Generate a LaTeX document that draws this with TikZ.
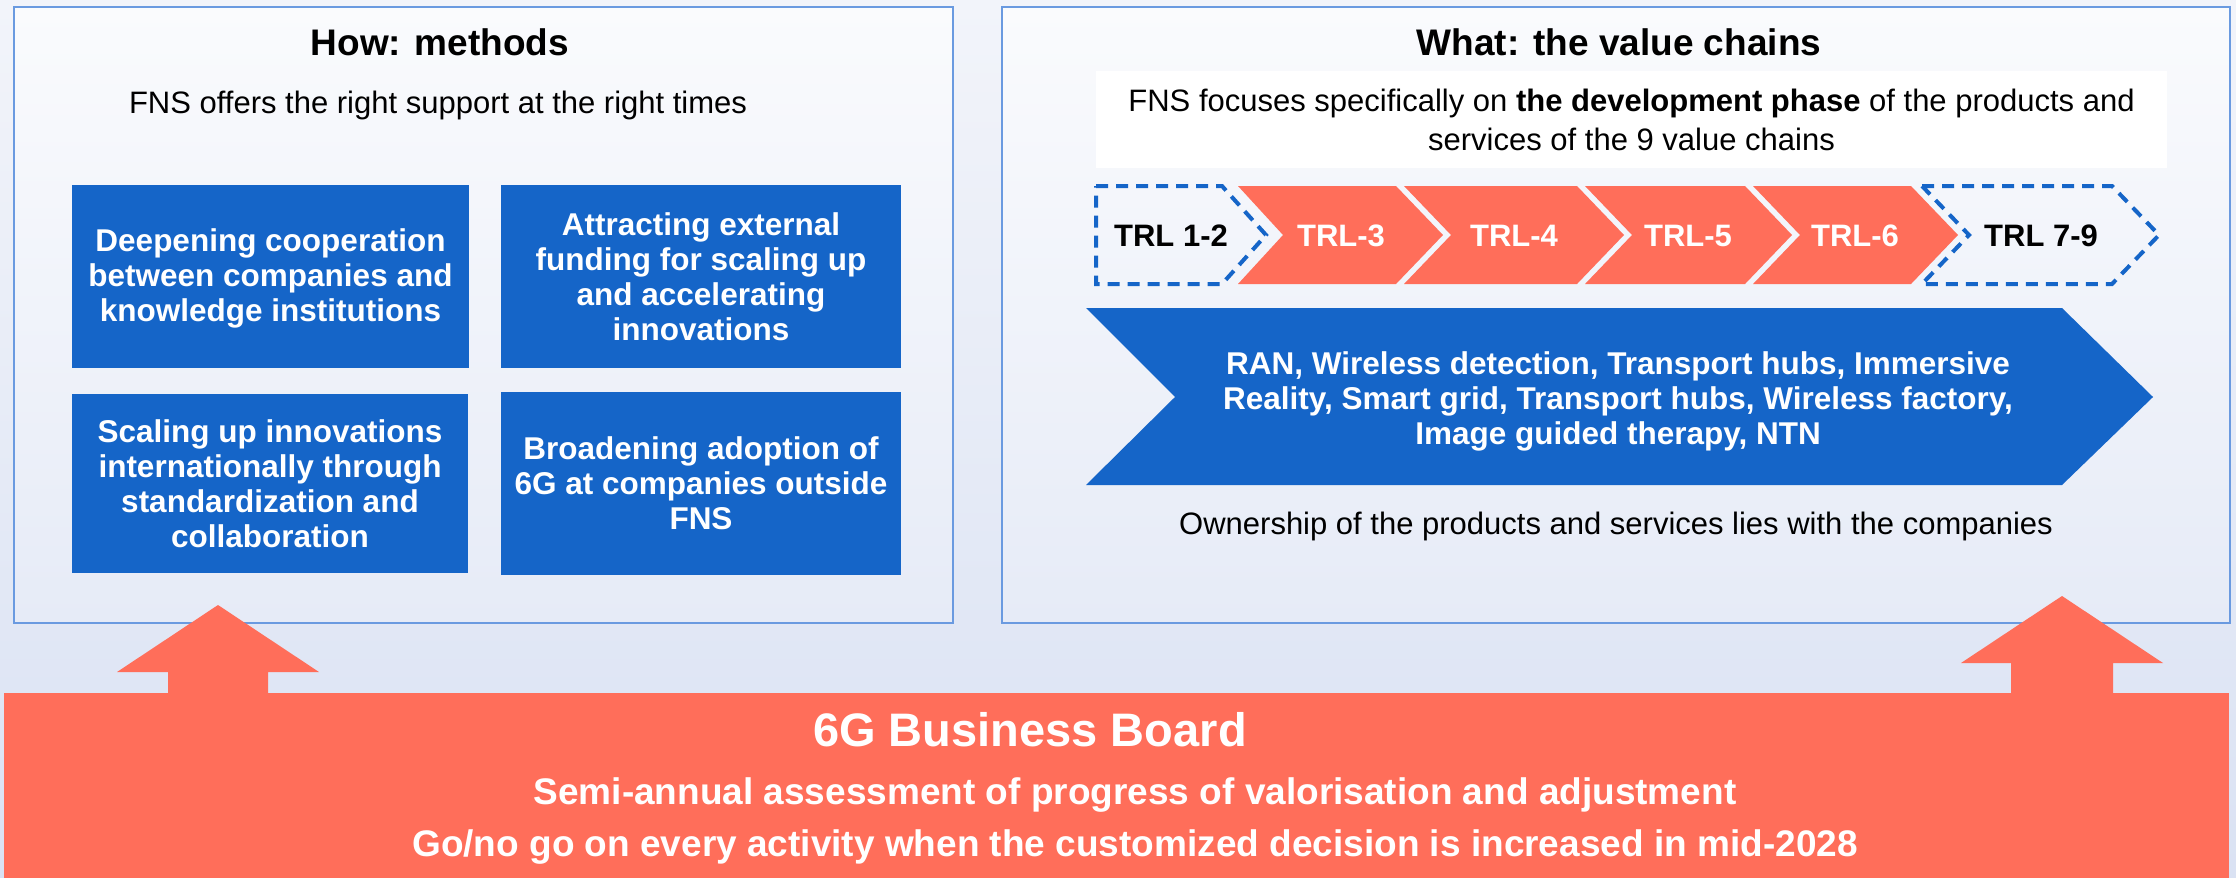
\documentclass[tikz,border=0pt]{standalone}
\usepackage{fontspec}
\setmainfont{Liberation Sans}
\definecolor{fnsblue}{HTML}{1565C8}
\definecolor{fnsorange}{HTML}{FF6E5A}
\definecolor{panelline}{HTML}{6A9AE0}
\definecolor{bgtop}{HTML}{F2F4FA}
\definecolor{bgbot}{HTML}{DAE2F3}
\definecolor{paneltop}{HTML}{FAFBFD}
\definecolor{panelbot}{HTML}{E6EBF7}
\begin{document}
\begin{tikzpicture}[x=1pt,y=-1pt,
  panel/.style={draw=panelline,line width=2pt,top color=paneltop,bottom color=panelbot},
  title/.style={font=\fontsize{37}{42}\selectfont\bfseries,text=black,inner sep=0pt},
  plain/.style={font=\fontsize{31}{39}\selectfont,text=black,inner sep=0pt,align=center},
  bluebox/.style={fill=fnsblue,text=white,font=\fontsize{31.5}{35}\selectfont\bfseries,align=center,inner sep=0pt},
  chev/.style={fill=fnsorange},
  dchev/.style={draw=fnsblue,line width=4pt,dash pattern=on 12pt off 8pt},
  chevlabel/.style={font=\fontsize{31}{35}\selectfont\bfseries,inner sep=0pt},
  board/.style={fill=fnsorange},
  boardtext/.style={text=white,font=\fontsize{37}{42}\selectfont\bfseries,inner sep=0pt}
]
\useasboundingbox (0,0) rectangle (2236,878);
\shade[top color=bgtop,bottom color=bgbot] (0,0) rectangle (2236,878);

% panels
\path[panel] (14,7) rectangle (953,623);
\path[panel] (1002,7) rectangle (2230,623);

% left panel content
\node[title] (howtitle) at (440,42) {How: methods};
\node[plain] (howsub) at (438,105) {FNS offers the right support at the right times};
\node[bluebox,minimum width=397pt,minimum height=183pt,text depth=2pt] (b1) at (270.5,276.5)
  {Deepening cooperation\\between companies and\\knowledge institutions};
\node[bluebox,minimum width=400pt,minimum height=183pt] (b2) at (701,276.5)
  {Attracting external\\funding for scaling up\\and accelerating\\innovations};
\node[bluebox,minimum width=396pt,minimum height=179pt] (b3) at (270,483.5)
  {Scaling up innovations\\internationally through\\standardization and\\collaboration};
\node[bluebox,minimum width=400pt,minimum height=183pt] (b4) at (701,483.5)
  {Broadening adoption of\\6G at companies outside\\FNS};

% right panel content
\node[title] (whattitle) at (1619,42) {What: the value chains};
\node[plain,fill=white,minimum width=1071pt,minimum height=97pt] (focus) at (1631.5,119.5)
  {FNS focuses specifically on \textbf{the development phase} of the products and\\services of the 9 value chains};

% TRL chevrons
\path[dchev] (1096,186) -- (1222,186) -- (1266,235) -- (1222,284) -- (1096,284) -- cycle;
\path[chev] (1238,186) -- (1396,186) -- (1443,235) -- (1396,284) -- (1238,284) -- (1283,235) -- cycle;
\path[chev] (1404,186) -- (1577,186) -- (1624,235) -- (1577,284) -- (1404,284) -- (1451,235) -- cycle;
\path[chev] (1585,186) -- (1745,186) -- (1792,235) -- (1745,284) -- (1585,284) -- (1632,235) -- cycle;
\path[chev] (1753,186) -- (1911,186) -- (1958,235) -- (1911,284) -- (1753,284) -- (1800,235) -- cycle;
\path[dchev] (1922,186) -- (2112,186) -- (2159,235) -- (2112,284) -- (1922,284) -- (1969,235) -- cycle;
\node[chevlabel,text=black] (t12) at (1171,236) {TRL 1-2};
\node[chevlabel,text=white] (t3) at (1341,236) {TRL-3};
\node[chevlabel,text=white] (t4) at (1514,236) {TRL-4};
\node[chevlabel,text=white] (t5) at (1688,236) {TRL-5};
\node[chevlabel,text=white] (t6) at (1855,236) {TRL-6};
\node[chevlabel,text=black] (t79) at (2041,236) {TRL 7-9};

% big blue arrow
\path[fill=fnsblue] (1086,308) -- (2062,308) -- (2153,397) -- (2062,485) -- (1086,485) -- (1175,397) -- cycle;
\node[bluebox] (chains) at (1618,401)
  {RAN, Wireless detection, Transport hubs, Immersive\\Reality, Smart grid, Transport hubs, Wireless factory,\\Image guided therapy, NTN};

\node[plain] (owner) at (1616,526) {Ownership of the products and services lies with the companies};

% board and arrows
\path[board] (4,693) rectangle (2229,878);
\path[board] (168,700) -- (168,672) -- (117,672) -- (218,605) -- (319,672) -- (268,672) -- (268,700) -- cycle;
\path[board] (2011,700) -- (2011,663) -- (1961,663) -- (2062,596) -- (2163,663) -- (2113,663) -- (2113,700) -- cycle;
\node[boardtext,font=\fontsize{47}{52}\selectfont\bfseries] (bb) at (1030,730) {6G Business Board};
\node[boardtext] (semi) at (1135,795) {Semi-annual assessment of progress of valorisation and adjustment};
\node[boardtext] (gono) at (1135,847) {Go/no go on every activity when the customized decision is increased in mid-2028};
\end{tikzpicture}
\end{document}
